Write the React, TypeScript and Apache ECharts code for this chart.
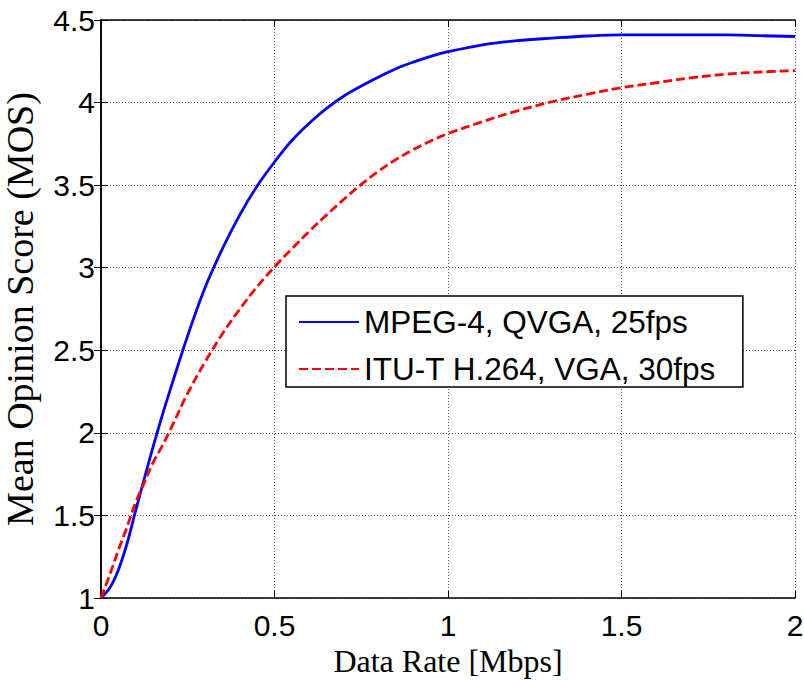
import React, { useEffect, useRef } from "react";
import * as echarts from "echarts";

const xValues = [0, 0.025, 0.05, 0.075, 0.1, 0.125, 0.15, 0.175, 0.2, 0.25, 0.3, 0.35, 0.4, 0.45, 0.5, 0.55, 0.6, 0.65, 0.7, 0.75, 0.8, 0.85, 0.9, 0.95, 1.0, 1.1, 1.2, 1.3, 1.4, 1.5, 1.6, 1.7, 1.8, 1.9, 2.0];
const mpeg4 = [1.0, 1.06, 1.17, 1.33, 1.53, 1.725, 1.915, 2.095, 2.265, 2.59, 2.88, 3.115, 3.32, 3.495, 3.64, 3.77, 3.875, 3.965, 4.04, 4.1, 4.155, 4.205, 4.245, 4.28, 4.308, 4.35, 4.375, 4.39, 4.403, 4.41, 4.41, 4.41, 4.41, 4.405, 4.4];
const h264 = [1.0, 1.14, 1.29, 1.43, 1.58, 1.7, 1.82, 1.915, 2.02, 2.24, 2.43, 2.6, 2.75, 2.885, 3.005, 3.115, 3.22, 3.32, 3.415, 3.505, 3.585, 3.655, 3.715, 3.767, 3.812, 3.885, 3.95, 4.005, 4.05, 4.09, 4.12, 4.15, 4.172, 4.185, 4.193];
const seriesNames = ["MPEG-4, QVGA, 25fps", "ITU-T H.264, VGA, 30fps"];
const xTitle = "Data Rate [Mbps]";
const yTitle = "Mean Opinion Score (MOS)";

export default function App() {
  const ref = useRef<HTMLDivElement>(null);
  useEffect(() => {
    if (!ref.current) return;
    const chart = echarts.init(ref.current, null, { renderer: "svg" });
    const sans = "Liberation Sans, Arial, sans-serif";
    const serif = "Liberation Serif, Times New Roman, serif";
    const boxAxis = {
      type: "value" as const,
      axisLine: { show: true, lineStyle: { color: "#000", width: 1.5 } },
      axisTick: { show: true, inside: true, length: 7, lineStyle: { color: "#000", width: 1 } },
      axisLabel: { show: false },
      splitLine: { show: false },
    };
    chart.setOption({
      animation: false,
      backgroundColor: "#fff",
      grid: { left: 101, right: 9, top: 20, bottom: 82, containLabel: false, outerBoundsMode: "none" },
      legend: {
        show: true,
        orient: "vertical",
        left: 286,
        top: 296,
        itemWidth: 60,
        itemHeight: 30,
        itemGap: 15,
        padding: [10, 27, 2, 12],
        borderColor: "#000",
        borderWidth: 1.5,
        backgroundColor: "#fff",
        itemStyle: { opacity: 0 },
        textStyle: { fontFamily: sans, fontSize: 31.5, color: "#000" },
        data: seriesNames,
      },
      xAxis: [
        {
          ...boxAxis,
          min: 0,
          max: 2,
          interval: 0.5,
          position: "bottom",
          name: xTitle,
          nameLocation: "middle",
          nameGap: 46,
          nameTextStyle: { fontFamily: serif, fontSize: 32, color: "#000" },
          axisLabel: { show: true, fontFamily: sans, fontSize: 30, color: "#000", margin: 12 },
          splitLine: { show: true, lineStyle: { color: "#555", width: 1, type: [1, 2] } },
        },
        { ...boxAxis, min: 0, max: 2, interval: 0.5, position: "top" },
      ],
      yAxis: [
        {
          ...boxAxis,
          min: 1,
          max: 4.5,
          interval: 0.5,
          position: "left",
          name: yTitle,
          nameLocation: "middle",
          nameGap: 62,
          nameTextStyle: { fontFamily: serif, fontSize: 38, color: "#000" },
          axisLabel: { show: true, fontFamily: sans, fontSize: 30, color: "#000", margin: 6 },
          splitLine: { show: true, lineStyle: { color: "#555", width: 1, type: [1, 2] } },
        },
        { ...boxAxis, min: 1, max: 4.5, interval: 0.5, position: "right" },
      ],
      series: [
        {
          name: seriesNames[0],
          type: "line",
          xAxisIndex: 0,
          yAxisIndex: 0,
          data: xValues.map((x, i) => [x, mpeg4[i]]),
          showSymbol: false,
          symbol: "none",
          smooth: 0.35,
          lineStyle: { color: "#0000ff", width: 2.8, type: "solid" },
          itemStyle: { color: "#0000ff" },
          z: 3,
        },
        {
          name: seriesNames[1],
          type: "line",
          xAxisIndex: 0,
          yAxisIndex: 0,
          data: xValues.map((x, i) => [x, h264[i]]),
          showSymbol: false,
          symbol: "none",
          smooth: 0.35,
          lineStyle: { color: "#ff0000", width: 2.8, type: [9, 4] },
          itemStyle: { color: "#ff0000" },
          z: 4,
        },
      ],
    });
    return () => chart.dispose();
  }, []);
  return (
    <div
      ref={ref}
      style={{ position: "absolute", left: 0, top: 0, width: 804, height: 680, background: "#fff" }}
    />
  );
}
